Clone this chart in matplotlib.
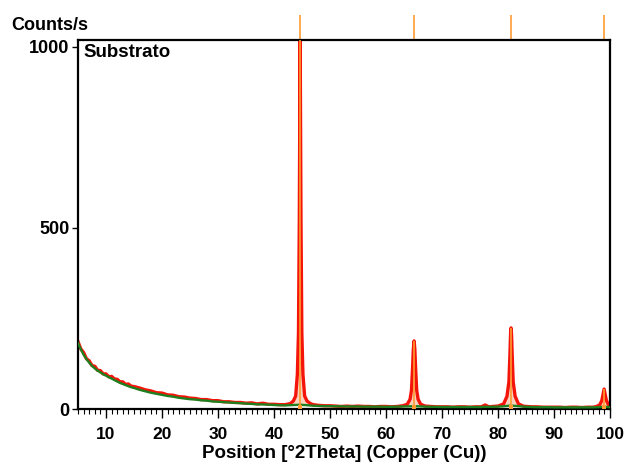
import numpy as np
import matplotlib
matplotlib.use("Agg")
import matplotlib.pyplot as plt
from matplotlib.transforms import blended_transform_factory
from matplotlib.ticker import MultipleLocator

plt.rcParams["font.family"] = ["Liberation Sans", "DejaVu Sans"]
plt.rcParams["font.weight"] = "bold"

# Scan: 2Theta positions, observed counts and fitted background
two_theta = [
    5.0, 5.5, 6.0, 6.5, 7.0, 7.5, 8.0, 8.5, 9.0, 9.5, 10, 10.5, 11, 11.5, 12, 12.5,
    13, 13.5, 14, 14.5, 15, 16, 17, 18, 19,
    20, 21, 22, 23, 24, 25, 26, 27, 28, 29, 30, 31, 32, 33, 34, 35, 36, 37, 38, 39,
    40, 41, 42, 42.9, 43.45, 43.87, 44.17, 44.37, 44.52, 44.6, 44.67, 44.74, 44.82,
    44.97, 45.17, 45.47, 45.9, 46.5, 47, 48, 49, 50, 51, 52, 53, 54, 55, 56, 57, 58,
    59, 60, 61, 62, 63.0, 63.8, 64.3, 64.55, 64.75, 64.88, 65.02, 65.15, 65.28,
    65.48, 65.73, 66.2, 67, 68, 69, 70, 71, 72, 73, 74, 75, 76, 77, 77.7, 78.4, 79,
    80, 81.0, 81.6, 81.95, 82.13, 82.24, 82.33, 82.42, 82.53, 82.71, 83.06, 83.66,
    84.5, 85, 86, 87, 88, 89, 90, 91, 92, 93, 94, 95, 96, 97, 97.6, 98.2, 98.55,
    98.78, 98.95, 99.12, 99.35, 99.7, 100,
]
observed = [
    186, 166, 156, 139, 133, 120, 118, 107, 106, 97, 97, 89, 90, 83, 82, 75,
    75, 68, 69, 63, 62, 58, 53, 50, 45,
    44, 39, 38, 34, 33, 30, 29, 26, 26, 23, 23, 20, 20, 18, 18, 16, 17, 14, 16, 13,
    13, 12, 12, 15, 22, 36, 95, 210, 520, 780, 1030, 780, 520,
    210, 95, 36, 22, 15, 12, 10, 9, 9, 8, 7, 8, 7, 8, 7, 7, 6,
    7, 7, 6, 7, 9, 13, 27, 52, 115, 165, 188, 165, 115,
    52, 27, 13, 8, 7, 6, 6, 6, 5, 6, 6, 5, 6, 6, 11, 6, 7,
    8, 14, 35, 75, 150, 205, 224, 205, 150, 75, 35, 14,
    8, 7, 6, 6, 5, 5, 5, 5, 4, 5, 5, 4, 5, 5, 7, 12, 24,
    42, 55, 42, 24, 12, 8,
]
background = [
    182, 165, 150, 138, 128, 119, 112, 106, 101, 96, 92, 88, 84, 80, 76, 72,
    69, 66, 63, 60, 58, 53, 49, 45, 42,
    39, 36, 34, 31, 29, 27, 26, 24, 23, 21, 20, 19, 18, 17, 16, 15, 14, 13, 12.5, 12,
    11, 10.5, 10, 10.5, 10.5, 11, 11, 11.5, 12, 12, 12, 12, 12,
    11.5, 11, 11, 10.5, 10, 9, 8.5, 8, 8, 7.5, 7.5, 7, 7, 7, 6.5, 6.5, 6.5,
    6.5, 6, 6, 6.5, 7, 7, 7.5, 7.5, 7.5, 7.5, 7.5, 7.5, 7.5,
    7.5, 7.5, 7, 6.5, 6, 6, 5.5, 5.5, 5.5, 5.5, 5.5, 5.5, 5.5, 5.5, 6, 6, 6,
    6.5, 7.5, 8.5, 9, 9, 9, 9, 9, 9, 9, 8.5, 7.5,
    6.5, 6, 5.5, 5, 5, 5, 4.5, 4.5, 4.5, 4.5, 4.5, 4.5, 4.5, 4.5, 5, 5.5, 6,
    6, 6, 6, 6, 5.5, 5,
]

# Reference pattern lines (iron)
peak_pos = [44.67, 65.02, 82.33, 98.95]
peak_counts = [1030, 188, 224, 55]

x = np.array(two_theta)
obs = np.array(observed)
bg = np.array(background)

fig = plt.figure(figsize=(6.27, 4.62), dpi=100)
ax = fig.add_axes([78 / 627, 53 / 462, 532 / 627, 369 / 462])

ax.fill_between(x, bg, obs, where=(obs - bg) > 6, interpolate=True,
                color="#f7d3bd", lw=0, zorder=1)
ax.plot(x, obs, color="#f5140a", lw=2.4, zorder=2, solid_joinstyle="round")
ax.plot(x, bg, color="#1f7f1f", lw=1.7, zorder=3)
ax.vlines(peak_pos, 0, peak_counts, color="#ff9a30", lw=1.4, alpha=0.85, zorder=4)
ax.plot(peak_pos, [6] * len(peak_pos), "s", color="#ff9a30", ms=3, mew=0, zorder=5)

# Pattern markers above the frame
trans = blended_transform_factory(ax.transData, ax.transAxes)
ax.vlines(peak_pos, 1.0, 1.0 + 25 / 369, transform=trans, color="#ff9a30",
          lw=1.3, alpha=0.9, clip_on=False)

ax.set_xlim(5, 100)
ax.set_ylim(0, 1019)
ax.set_yticks([0, 500, 1000])
ax.xaxis.set_major_locator(MultipleLocator(10))
ax.xaxis.set_minor_locator(MultipleLocator(1))
ax.set_xticks([10, 20, 30, 40, 50, 60, 70, 80, 90, 100])

for side in ["left", "right", "top", "bottom"]:
    ax.spines[side].set_linewidth(1.6)
ax.tick_params(axis="x", which="major", length=6.5, width=1, pad=6.5, labelsize=12.5)
ax.tick_params(axis="x", which="minor", length=3.6, width=0.8)
ax.tick_params(axis="y", which="major", length=4.5, width=1, pad=1.5, labelsize=13)
for lab in ax.get_xticklabels() + ax.get_yticklabels():
    lab.set_fontweight("bold")

ax.set_xlabel("Position [°2Theta] (Copper (Cu))", fontsize=13.5, fontweight="bold",
              labelpad=2)
fig.text(11 / 627, 1 - 25 / 462, "Counts/s", fontsize=13, fontweight="bold",
         ha="left", va="center")
ax.text(0.01, 0.99, "Substrato", transform=ax.transAxes, fontsize=13.5,
        fontweight="bold", ha="left", va="top")

fig.savefig("out.png", dpi=100)
